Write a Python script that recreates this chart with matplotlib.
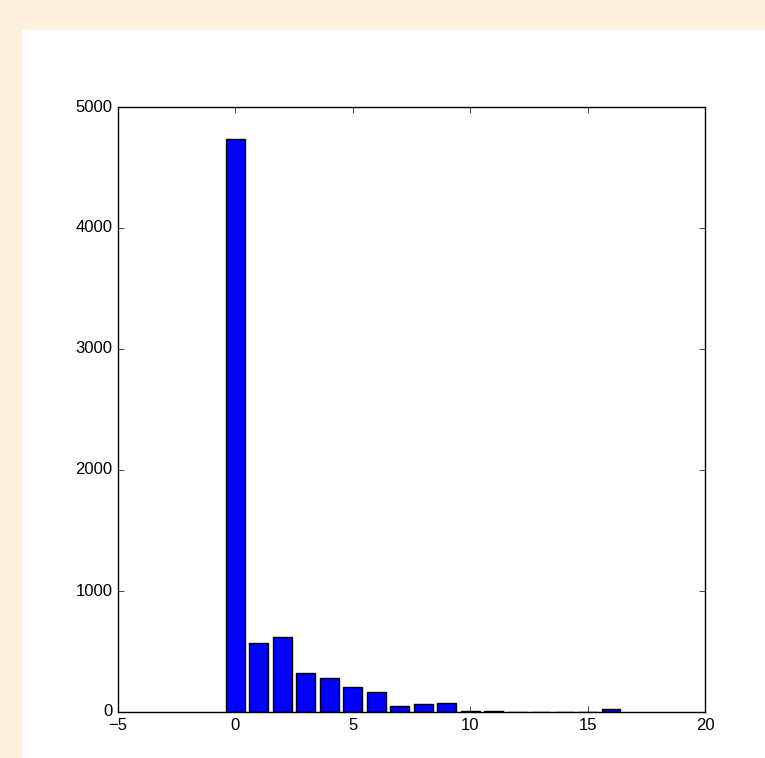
import matplotlib
matplotlib.use("Agg")
import matplotlib.pyplot as plt
from matplotlib.patches import Rectangle

# counts per bin
bins = list(range(0, 17))
counts = [4733, 573, 622, 320, 278, 207, 163, 52, 63, 72,
          10, 8, 2, 2, 3, 3, 22]

plt.style.use("classic")
plt.rcParams['font.family'] = ['Liberation Sans Narrow', 'Liberation Sans', 'DejaVu Sans']

dpi = 100
fig = plt.figure(figsize=(7.65, 7.58), dpi=dpi, facecolor="#fdf0dc")
# white page area inside the cream frame
fig.patches.append(Rectangle((22 / 765, 0), 1, 1 - 30 / 758, transform=fig.transFigure,
                             facecolor="white", edgecolor="none", zorder=-10))

ax = fig.add_axes([118 / 765, 46 / 758, 587 / 765, 605 / 758])
ax.set_zorder(5)
ax.bar(bins, counts, width=0.8, align="center", color="b", edgecolor="k", linewidth=1)

ax.set_xlim(-5, 20)
ax.set_ylim(0, 5000)
ax.set_xticks([-5, 0, 5, 10, 15, 20])
ax.set_yticks([0, 1000, 2000, 3000, 4000, 5000])
ax.tick_params(labelsize=12)

fig.savefig("out.png", dpi=dpi, facecolor=fig.get_facecolor())
